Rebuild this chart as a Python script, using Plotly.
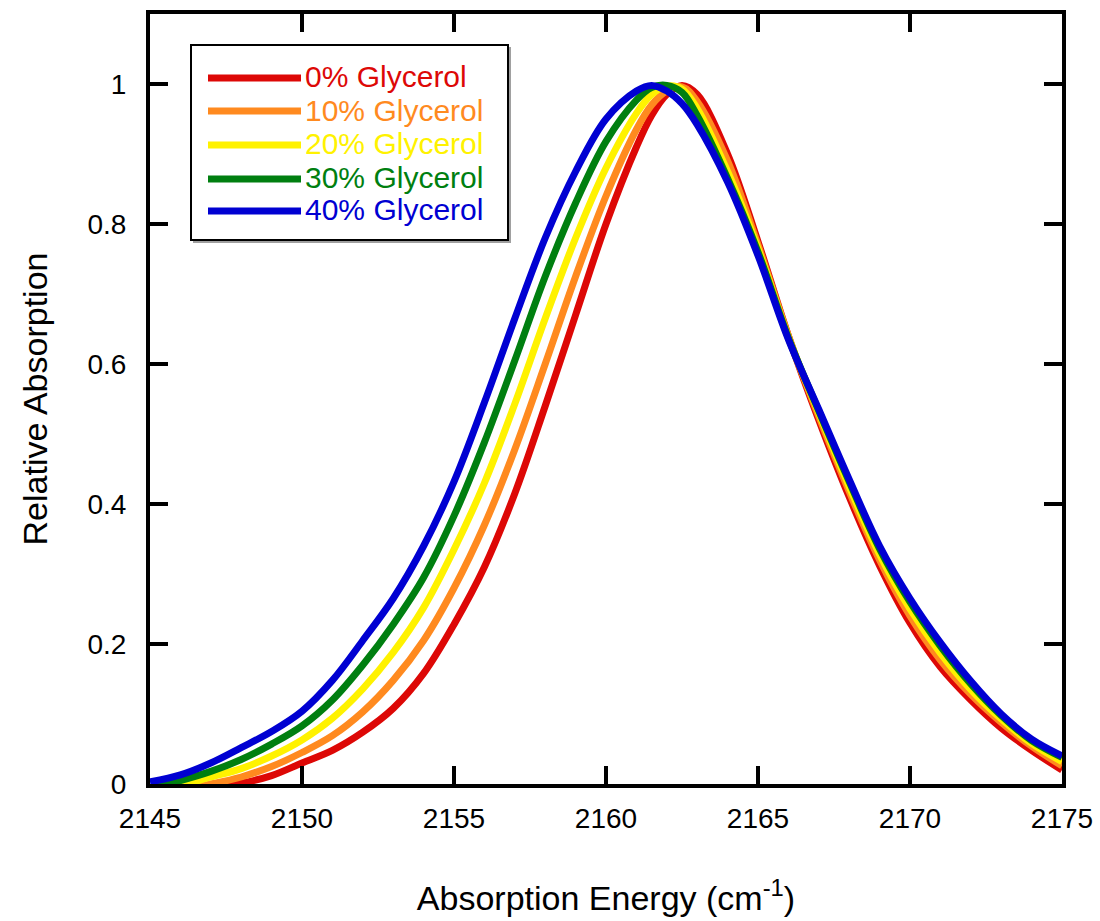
import plotly.graph_objects as go

# ---- data ----
energy = [2145, 2146, 2147, 2148, 2149, 2150, 2151, 2152, 2153, 2154, 2155, 2156,
          2157, 2158, 2159, 2160, 2161, 2161.5, 2162, 2162.5, 2163, 2164, 2165,
          2166, 2167, 2168, 2169, 2170, 2171, 2172, 2173, 2174, 2175]

glycerol_0 = [-0.01, -0.01, -0.006, 0.001, 0.012, 0.03, 0.048, 0.074, 0.108, 0.158,
              0.228, 0.31, 0.415, 0.54, 0.67, 0.8, 0.91, 0.955, 0.985, 0.998,
              0.985, 0.9, 0.775, 0.64, 0.52, 0.41, 0.312, 0.23, 0.167, 0.12,
              0.08, 0.048, 0.02]
glycerol_10 = [-0.01, -0.008, 0.0, 0.01, 0.025, 0.045, 0.069, 0.103, 0.148, 0.205,
               0.28, 0.37, 0.478, 0.6, 0.725, 0.84, 0.935, 0.97, 0.99, 0.996,
               0.975, 0.89, 0.77, 0.64, 0.525, 0.418, 0.32, 0.24, 0.177, 0.128,
               0.088, 0.054, 0.026]
glycerol_20 = [-0.01, -0.002, 0.01, 0.022, 0.04, 0.063, 0.094, 0.136, 0.188, 0.252,
               0.335, 0.43, 0.543, 0.665, 0.78, 0.88, 0.958, 0.985, 0.997, 0.993,
               0.965, 0.875, 0.765, 0.638, 0.53, 0.425, 0.328, 0.25, 0.187, 0.135,
               0.093, 0.058, 0.032]
glycerol_30 = [-0.005, 0.005, 0.018, 0.035, 0.057, 0.083, 0.12, 0.17, 0.228, 0.295,
               0.383, 0.488, 0.605, 0.725, 0.83, 0.918, 0.977, 0.995, 0.998, 0.988,
               0.955, 0.865, 0.76, 0.637, 0.533, 0.432, 0.336, 0.26, 0.197, 0.143,
               0.098, 0.062, 0.038]
glycerol_40 = [0.003, 0.013, 0.03, 0.052, 0.075, 0.104, 0.148, 0.205, 0.265, 0.34,
               0.432, 0.545, 0.665, 0.78, 0.875, 0.95, 0.99, 0.998, 0.99, 0.972,
               0.942, 0.86, 0.755, 0.635, 0.535, 0.435, 0.34, 0.265, 0.202, 0.147,
               0.1, 0.064, 0.04]

series_names = ["0% Glycerol", "10% Glycerol", "20% Glycerol", "30% Glycerol", "40% Glycerol"]
series_values = [glycerol_0, glycerol_10, glycerol_20, glycerol_30, glycerol_40]
series_colors = ["#DD0806", "#FF8A1F", "#FFF200", "#007F10", "#0000D2"]

x_ticks = [2145, 2150, 2155, 2160, 2165, 2170, 2175]
y_ticks = [0, 0.2, 0.4, 0.6, 0.8, 1]

FONT = "Liberation Sans, Arial, Helvetica, sans-serif"

fig = go.Figure()
for name, vals, col in zip(series_names, series_values, series_colors):
    fig.add_trace(go.Scatter(x=energy, y=vals, mode="lines", name=name,
                             line=dict(color=col, width=7, shape="spline", smoothing=1.0),
                             showlegend=False))

# ---- hand-drawn legend box (paper coordinates) ----
PW, PH, L, B = 912.0, 770.0, 150.0, 784.0
def px(xp):
    return (xp - L) / PW
def py(yp):
    return (B - yp) / PH

shapes = []
shapes.append(dict(type="rect", xref="paper", yref="paper",
                   x0=px(193), x1=px(511), y0=py(243), y1=py(47),
                   line=dict(width=0), fillcolor="#a0a0a0", layer="above"))
shapes.append(dict(type="rect", xref="paper", yref="paper",
                   x0=px(191), x1=px(508), y0=py(240), y1=py(45),
                   line=dict(color="black", width=2), fillcolor="white", layer="above"))
annotations = []
row_y = [75, 108, 142, 176, 208]
for name, col, ry in zip(series_names, series_colors, row_y):
    shapes.append(dict(type="line", xref="paper", yref="paper",
                       x0=px(208), x1=px(301), y0=py(ry + 3), y1=py(ry + 3),
                       line=dict(color=col, width=7), layer="above"))
    annotations.append(dict(xref="paper", yref="paper", x=px(303), y=py(ry + 2),
                            xanchor="left", yanchor="middle", showarrow=False,
                            text=name, font=dict(family=FONT, size=30, color=col)))

axis_common = dict(showline=True, linecolor="black", linewidth=4, mirror="ticks",
                   ticks="inside", ticklen=18, tickwidth=4, tickcolor="black",
                   showgrid=False, zeroline=False,
                   tickfont=dict(family=FONT, size=28, color="black"))

fig.update_layout(
    width=1100, height=921,
    margin=dict(l=150, r=38, t=14, b=137, autoexpand=False),
    paper_bgcolor="white", plot_bgcolor="white",
    font=dict(family=FONT, color="black"),
    xaxis=dict(range=[2145, 2175], tickvals=x_ticks, ticklabelstandoff=6,
               title=dict(text="Absorption Energy (cm<sup>-1</sup>)",
                          font=dict(family=FONT, size=34), standoff=55),
               automargin=False, **axis_common),
    yaxis=dict(range=[0, 1.1], tickvals=y_ticks, ticklabelstandoff=14,
               title=dict(text="Relative Absorption",
                          font=dict(family=FONT, size=34), standoff=31),
               automargin=False, **axis_common),
    shapes=shapes, annotations=annotations,
)

fig.write_html("out.html")
